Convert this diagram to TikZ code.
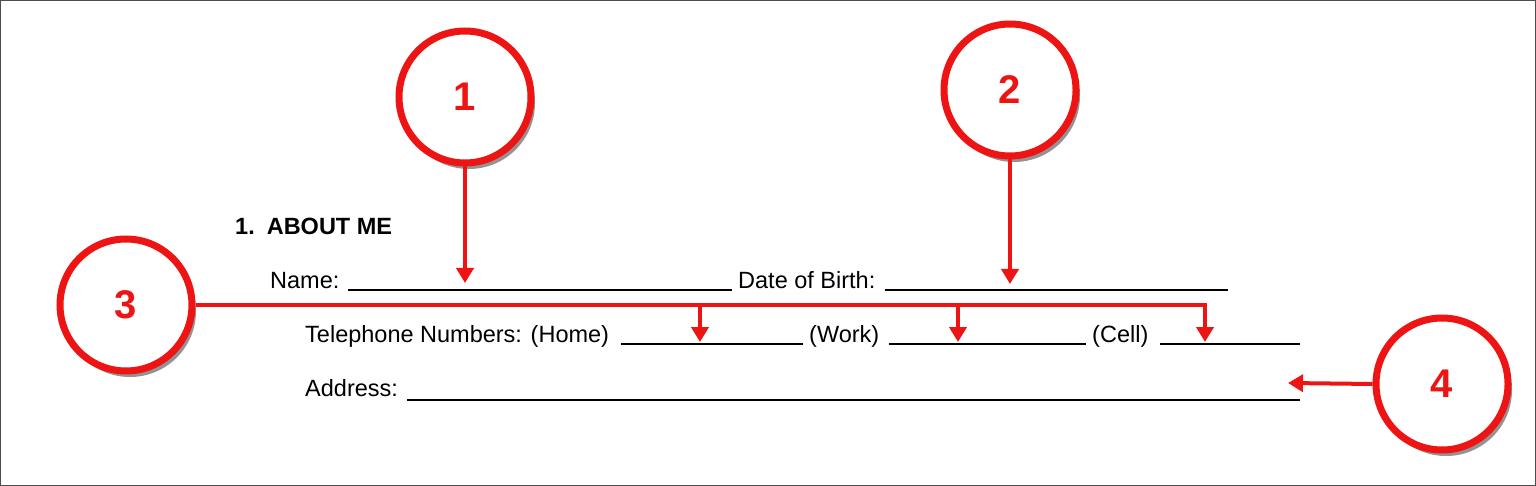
\documentclass[tikz,border=0pt]{standalone}
\usepackage{fontspec}
\setmainfont{Liberation Sans}
\usetikzlibrary{shadows,arrows.meta}
\definecolor{rd}{RGB}{238,20,20}
\begin{document}
\begin{tikzpicture}[x=1pt,y=-1pt,
  badge/.style={circle,draw=rd,line width=7pt,fill=white,minimum size=132pt,inner sep=0pt,
    font=\fontsize{40}{40}\selectfont\bfseries,text=rd,
    drop shadow={shadow xshift=4pt,shadow yshift=-6pt,fill=black!60,opacity=0.7}},
  ptr/.style={draw=rd,line width=4pt,-{Triangle[length=15pt,width=17pt]}},
  lab/.style={anchor=base west,inner sep=0pt,font=\fontsize{23.5}{24}\selectfont},
  uline/.style={line width=1.5pt}]
\draw[line width=1.2pt,black!70,fill=white] (0.6,0.6) rectangle (1535.4,485.4);
\useasboundingbox (0,0) rectangle (1536,486);
\node[lab,font=\fontsize{23.5}{24}\selectfont\bfseries] (h) at (235,235) {1.\hspace{12pt}ABOUT ME};
\node[lab] (nm) at (270,288) {Name:};
\draw[uline] (348,290) -- (732,290);
\node[lab] (db) at (738,288) {Date of Birth:};
\draw[uline] (885,290) -- (1228,290);
\node[lab] (tel) at (305,342) {Telephone Numbers: (Home)};
\draw[uline] (621,344) -- (803,344);
\node[lab] (wk) at (809,342) {(Work)};
\draw[uline] (889,344) -- (1086,344);
\node[lab] (cl) at (1092,342) {(Cell)};
\draw[uline] (1160,344) -- (1300,344);
\node[lab] (ad) at (305,396) {Address:};
\draw[uline] (407,400) -- (1300,400);
\node[badge] (c1) at (465,97) {1};
\node[badge] (c2) at (1010,90) {2};
\node[badge] (c3) at (126,305) {3};
\node[badge] (c4) at (1442,384) {4};
\coordinate (t1) at (465,283);
\coordinate (t2) at (1010,284);
\draw[ptr] (c1.south) -- (t1);
\draw[ptr] (c2.south) -- (t2);
\coordinate (hm) at (700,342);
\coordinate (wr) at (958,342);
\coordinate (ce) at (1205,342);
\draw[draw=rd,line width=4pt] (c3.east) -- (1207,305);
\draw[ptr] (700,305) -- (hm);
\draw[ptr] (958,305) -- (wr);
\draw[ptr] (1205,303) -- (ce);
\coordinate (t4) at (1288,383);
\draw[ptr] (c4.west) -- (t4);
\end{tikzpicture}
\end{document}
